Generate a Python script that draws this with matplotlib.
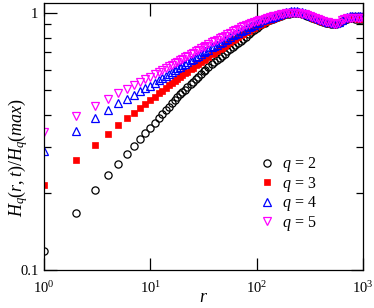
import matplotlib
matplotlib.use('Agg')
import matplotlib.pyplot as plt
from matplotlib.ticker import LogLocator, NullFormatter, FixedLocator, FixedFormatter

plt.rcParams['font.family'] = ['Liberation Serif', 'DejaVu Serif']
plt.rcParams['mathtext.fontset'] = 'custom'
plt.rcParams['mathtext.rm'] = 'Liberation Serif'
plt.rcParams['mathtext.it'] = 'Liberation Serif:italic'

# distances r (integers up to 20, then roughly log-spaced)
r = list(range(1, 21)) + [
    21, 22, 24, 25, 27, 28, 30, 32, 33, 35, 38, 40, 42, 45, 47, 50, 53, 56, 60, 63,
    67, 71, 75, 79, 84, 89, 94, 100, 106, 112, 119, 126, 133, 141, 150, 158, 168, 178, 188, 200,
    211, 224, 237, 251, 266, 282, 299, 316, 335, 355, 376, 398, 422, 447, 473, 501, 531, 562, 596, 631,
    668, 708, 750, 794, 841, 891, 944, 1000]

h_q2 = [0.119, 0.167, 0.204, 0.233, 0.259, 0.283, 0.304, 0.323, 0.340, 0.356,
        0.372, 0.388, 0.403, 0.417, 0.431, 0.444, 0.457, 0.469, 0.481, 0.493,
        0.502, 0.512, 0.529, 0.538, 0.554, 0.562, 0.577, 0.592, 0.599, 0.613, 0.633, 0.644, 0.654, 0.669, 0.679, 0.693, 0.707, 0.720, 0.737, 0.749,
        0.764, 0.779, 0.793, 0.807, 0.823, 0.839, 0.854, 0.872, 0.887, 0.900, 0.913, 0.925, 0.936, 0.947, 0.957, 0.965, 0.973, 0.980, 0.986, 0.991,
        0.994, 0.996, 0.996, 0.994, 0.989, 0.982, 0.974, 0.965, 0.956, 0.947, 0.938, 0.929, 0.921, 0.914, 0.908, 0.903, 0.900, 0.901, 0.909, 0.926,
        0.940, 0.947, 0.949, 0.949, 0.948, 0.947, 0.947, 0.946]

h_q3 = [0.213, 0.268, 0.307, 0.339, 0.366, 0.388, 0.407, 0.426, 0.442, 0.456,
        0.471, 0.485, 0.498, 0.510, 0.522, 0.533, 0.543, 0.553, 0.562, 0.571,
        0.580, 0.588, 0.603, 0.611, 0.625, 0.631, 0.644, 0.656, 0.662, 0.673, 0.689, 0.699, 0.709, 0.722, 0.731, 0.744, 0.755, 0.767, 0.781, 0.791,
        0.803, 0.815, 0.826, 0.837, 0.849, 0.861, 0.872, 0.884, 0.895, 0.905, 0.916, 0.926, 0.935, 0.945, 0.955, 0.963, 0.972, 0.980, 0.986, 0.992,
        0.996, 0.998, 0.998, 0.995, 0.990, 0.983, 0.975, 0.966, 0.957, 0.948, 0.939, 0.930, 0.922, 0.915, 0.909, 0.904, 0.901, 0.902, 0.910, 0.927,
        0.941, 0.948, 0.950, 0.950, 0.949, 0.948, 0.948, 0.947]

h_q4 = [0.289, 0.347, 0.388, 0.419, 0.444, 0.463, 0.480, 0.494, 0.508, 0.520,
        0.533, 0.546, 0.558, 0.569, 0.579, 0.589, 0.598, 0.607, 0.616, 0.624,
        0.632, 0.640, 0.654, 0.661, 0.674, 0.680, 0.692, 0.703, 0.708, 0.718, 0.732, 0.741, 0.749, 0.762, 0.770, 0.781, 0.792, 0.802, 0.815, 0.824,
        0.836, 0.847, 0.857, 0.867, 0.878, 0.889, 0.898, 0.914, 0.923, 0.932, 0.941, 0.949, 0.957, 0.965, 0.974, 0.982, 0.990, 0.997, 1.003, 1.007,
        1.010, 1.011, 1.010, 1.007, 1.002, 0.995, 0.987, 0.978, 0.969, 0.960, 0.951, 0.942, 0.934, 0.927, 0.921, 0.916, 0.912, 0.913, 0.922, 0.940,
        0.956, 0.964, 0.967, 0.968, 0.968, 0.967, 0.967, 0.966]

h_q5 = [0.345, 0.397, 0.435, 0.463, 0.486, 0.505, 0.522, 0.537, 0.550, 0.562,
        0.575, 0.587, 0.598, 0.608, 0.618, 0.628, 0.637, 0.645, 0.654, 0.662,
        0.670, 0.677, 0.691, 0.697, 0.709, 0.715, 0.726, 0.737, 0.742, 0.752, 0.766, 0.775, 0.783, 0.795, 0.803, 0.814, 0.824, 0.834, 0.846, 0.855,
        0.866, 0.876, 0.886, 0.895, 0.904, 0.911, 0.918, 0.925, 0.932, 0.939, 0.946, 0.953, 0.960, 0.967, 0.974, 0.980, 0.986, 0.991, 0.995, 0.998,
        1.000, 1.000, 0.998, 0.995, 0.991, 0.985, 0.978, 0.970, 0.962, 0.954, 0.945, 0.937, 0.929, 0.922, 0.916, 0.911, 0.907, 0.907, 0.915, 0.932,
        0.946, 0.953, 0.955, 0.955, 0.954, 0.953, 0.953, 0.952]

fig = plt.figure(figsize=(3.74, 3.08), dpi=100)
ax = fig.add_axes([0.1176, 0.1234, 0.853, 0.867])

ms = 5.2
ax.plot(r, h_q2, 'o', ms=ms, mfc='none', mec='black', mew=0.9, label='$q$ = 2')
ax.plot(r, h_q3, 's', ms=ms - 0.6, mfc='red', mec='red', mew=0.5, label='$q$ = 3')
ax.plot(r, h_q4, '^', ms=ms, mfc='none', mec='blue', mew=0.9, label='$q$ = 4')
ax.plot(r, h_q5, 'v', ms=ms, mfc='none', mec='magenta', mew=0.9, label='$q$ = 5')

ax.set_xscale('log')
ax.set_yscale('log')
ax.set_xlim(1, 1000)
ax.set_ylim(0.1, 1.09)

ax.xaxis.set_major_locator(FixedLocator([1, 10, 100, 1000]))
ax.xaxis.set_major_formatter(FixedFormatter(['$10^0$', '$10^1$', '$10^2$', '$10^3$']))
ax.xaxis.set_minor_locator(FixedLocator([]))
ax.yaxis.set_major_locator(FixedLocator([0.1, 1]))
ax.yaxis.set_major_formatter(FixedFormatter(['0.1', '1']))
ax.yaxis.set_minor_locator(LogLocator(base=10, subs=range(2, 10)))
ax.yaxis.set_minor_formatter(NullFormatter())

ax.tick_params(which='both', direction='in', top=True, right=True, labelsize=10.5, width=0.9)
ax.tick_params(which='major', length=9)
ax.tick_params(axis='x', which='major', pad=7)
ax.tick_params(axis='y', which='major', pad=4)
ax.tick_params(which='minor', length=5)
for s in ax.spines.values():
    s.set_linewidth(0.9)

ax.set_xlabel('$r$', fontsize=13)
ax.xaxis.set_label_coords(0.5, -0.072)
ax.set_ylabel('$H_q(r,t)/H_q(max)$', fontsize=13)
ax.yaxis.set_label_coords(-0.045, 0.42)

ax.legend(loc='upper left', bbox_to_anchor=(0.65, 0.46), frameon=False, fontsize=11.5,
          handlelength=1.0, handletextpad=0.4, labelspacing=0.03, borderpad=0)

fig.savefig('out.png', dpi=100)
